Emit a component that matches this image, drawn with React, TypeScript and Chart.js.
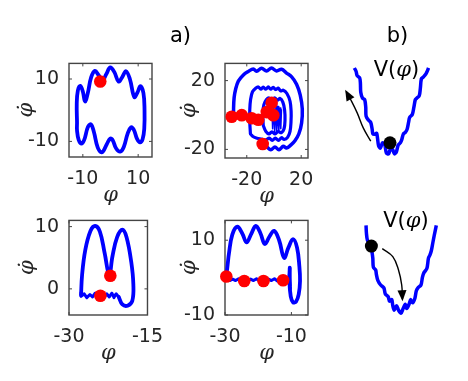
import React, { useEffect, useRef } from 'react';
import { Chart, registerables } from 'chart.js';

Chart.register(...registerables);

// ---------- DATA (phase, velocity) ----------
// Panel 1 (top-left): closed orbit
const p1Orbit: number[][] = [
  [-12.1, -4], [-12.2, 2], [-11.8, 6.3], [-10.9, 7.8], [-10.0, 6.0], [-9.2, 2.8], [-8.2, 5.5],
  [-7.0, 10.5], [-5.6, 12.6], [-4.3, 11.2], [-2.9, 9.6], [-1.5, 11.6], [-0.1, 13.7], [1.4, 12.2],
  [2.9, 9.2], [4.3, 10.7], [5.6, 12.5], [7.0, 10.0], [8.6, 4.2], [9.7, 5.6], [10.8, 7.7],
  [11.9, 5.5], [12.3, 0], [12.2, -6], [11.6, -9.3], [10.7, -10.3], [9.6, -9.2], [8.4, -6.2],
  [7.4, -5.5], [6.2, -7.5], [4.8, -11.8], [3.5, -13.3], [2.0, -12.2], [0.8, -9.6], [-0.1, -9.1],
  [-1.3, -10.8], [-3.1, -13.5], [-4.6, -12.0], [-6.0, -7.0], [-7.1, -4.5], [-8.2, -5.5],
  [-9.5, -9.5], [-10.5, -10.7], [-11.5, -9.5], [-12.1, -6.5], [-12.1, -4],
];
const p1Dots: number[][] = [[-3.7, 9.2]];

// Panel 2 (top-right): nested loops
const p2Outer: number[][] = [
  [-29.6, -2], [-29.7, 4], [-29.3, 10], [-28.2, 15], [-26.2, 19.7], [-22.5, 23.3], [-18.9, 25.3],
  [-15.2, 26.8], [-12.8, 25.4], [-9.1, 27.2], [-5.5, 25.6], [-1.8, 27.3], [1.9, 25.6], [5.6, 26.6],
  [9.2, 24.4], [13, 22.2], [16.6, 17.9], [19.3, 11.6], [20.8, 3.5], [20.3, -4.6], [18.3, -10.9],
  [15.4, -15], [12.5, -17.4], [9.2, -19.2], [6.8, -18.2], [3.6, -20.2], [0.7, -18.6], [-2.3, -20.2],
  [-5.5, -18.4], [-8.3, -16.9],
];
const p2Middle: number[][] = [
  [-17.3, -11], [-17.8, -4], [-17.8, 3], [-17.2, 9], [-15.8, 13.5], [-13.5, 15.5], [-11.5, 16.3],
  [-9.7, 15], [-7.9, 16.2], [-6, 15], [-4.2, 16.3], [-2.4, 15], [-0.6, 16.1], [1.3, 14.8],
  [3.1, 15.6], [5, 14], [6.8, 14.4], [9.5, 12.5], [11.8, 8], [12.6, 2], [12.5, -4], [11.8, -9.5],
  [10, -13], [7.5, -14.2], [5.5, -13.2], [3.3, -14.8], [1, -13.4], [-1.3, -14.8], [-3.5, -13.4],
  [-6, -14.5], [-9, -14], [-12.5, -13.5], [-15.5, -12.5], [-17.3, -11],
];
const p2Inner: number[][] = [
  [-7.9, -6], [-8.2, 1], [-7.4, 6], [-5.5, 9], [-3.5, 9.9], [-1.5, 8.6], [0.5, 10], [2.5, 8.6],
  [4.5, 9.6], [6.5, 7.5], [7.8, 3], [8.1, -3], [7.4, -8], [5.4, -10.3], [3, -9.6], [0.8, -11],
  [-1.5, -9.8], [-3.7, -11], [-6, -9.5], [-7.9, -6],
];
const p2Scribble: number[][] = [
  [-1.5, 4], [-1, -8], [0, 5], [0.5, -10], [1.5, 6], [2, -9], [3, 5], [3.5, -10], [4.5, 4],
  [5, -8], [5.5, 3], [3, -6], [1, 2], [-0.5, -5],
];
const p2Dots: number[][] = [
  [-31.1, -1.0], [-23.7, -0.1], [-16.4, -1.9], [-11.5, -2.8], [-5.3, 1.7], [-1.7, 7.1],
  [-0.5, -0.1], [-8.3, -16.9],
];

// Panel 3 (bottom-left): M-shaped orbit
const p3Orbit: number[][] = [
  [-27.7, -1.0], [-27.5, 2.2], [-26.9, 6.2], [-25.9, 9.3], [-25.0, 10.1], [-24.1, 9.2], [-23.2, 5.8],
  [-22.3, 2.2], [-21.7, 5.2], [-20.8, 8.3], [-19.8, 9.5], [-19.0, 8.3], [-18.1, 4.3], [-17.7, 0.7],
  [-17.9, -1.9], [-18.8, -2.7], [-19.8, -2.5], [-20.5, -1.3],
];
const p3Noise: number[][] = [
  [-20.5, -1.3], [-21.0, -0.8], [-21.4, -1.4], [-21.8, -0.7], [-22.3, -1.3], [-22.8, -0.8],
  [-23.3, -1.4], [-23.8, -0.9], [-24.4, -1.3], [-25.0, -0.7], [-25.5, -1.3], [-26.0, -0.9],
  [-26.6, -1.4], [-27.1, -0.8], [-27.7, -1.2], [-27.7, -0.6],
];
const p3Dots: number[][] = [[-22.1, 2.1], [-24.0, -1.1]];

// Panel 4 (bottom-right)
const p4Orbit: number[][] = [
  [-29.6, 0.3], [-29.2, 3.5], [-28.8, 6.5], [-27.8, 11.5], [-26.3, 13.6], [-24.8, 11.8],
  [-23.5, 9.4], [-22.2, 11.5], [-20.7, 13.8], [-19.3, 11.8], [-18.0, 9.0], [-16.6, 11],
  [-15.2, 12.5], [-13.7, 10], [-12.2, 5.3], [-10.9, 8], [-9.5, 10.3], [-8.3, 8], [-7.6, 3],
  [-7.4, -0.9], [-7.8, -4.5], [-8.6, -6.4], [-9.5, -6.6], [-10.2, -5], [-10.6, -1], [-10.5, 2.6],
];
const p4Scribble: number[][] = [
  [-10.5, 2.8], [-10.3, -3], [-10.5, 2], [-10.3, -2.5], [-10.6, 1], [-10.8, -0.6],
];
const p4Noise: number[][] = [
  [-10.8, -0.6], [-11.6, -0.3], [-12.4, -0.9], [-13.3, -0.4], [-14.2, -0.9], [-15.1, -0.3],
  [-16.0, -0.8], [-16.9, -0.4], [-17.8, -1.0], [-18.7, -0.4], [-19.6, -0.9], [-20.5, -0.3],
  [-21.4, -0.8], [-22.3, -0.4], [-23.2, -1.0], [-24.1, -0.4], [-25.0, -0.9], [-25.9, -0.3],
  [-26.8, -0.8], [-27.7, -0.4], [-28.6, -0.8], [-29.6, -0.5],
];
const p4Dots: number[][] = [[-29.6, 0.3], [-24.2, -0.9], [-18.4, -0.9], [-12.5, -0.7]];

// Tick labels
const p1XTicks = [-10, 10];
const p1YTicks = [-10, 10];
const p2XTicks = [-20, 20];
const p2YTicks = [-20, 20];
const p3XTicks = [-30, -15];
const p3YTicks = [0, 10];
const p4XTicks = [-30, -10];
const p4YTicks = [-10, 10];

// ---------- DATA (potential sketches) ----------
const potTop: number[][] = [
  [-10, 26.8], [-9.5, 25.8], [-9.2, 24.6], [-8.5, 24], [-8.3, 22.5], [-8.2, 20], [-7.7, 18.3],
  [-7.1, 17.9], [-6.8, 15.8], [-6.7, 13.3], [-6, 12.1], [-5.4, 11.5], [-5, 9.6], [-4.8, 8.3],
  [-4.2, 8.2], [-3.75, 8.5], [-3.5, 7.1], [-3.2, 5], [-2.7, 4.3], [-2.1, 5.8], [-1.5, 5.4],
  [-1, 2.9], [-0.4, 2.7], [0.2, 4.3], [0.7, 4], [1.25, 2.7], [1.8, 3.3], [2.3, 5.2], [2.9, 5.8],
  [3.3, 6.7], [3.75, 8.3], [4.3, 8.75], [4.8, 9.6], [5.2, 11.5], [5.5, 12.9], [6.25, 13.75],
  [6.7, 15.8], [7.1, 17.9], [7.5, 18.3], [8.2, 19], [8.5, 21], [8.8, 23.75], [9.3, 24.2],
  [10, 25], [10.4, 25.8], [10.8, 26.8],
];
const potTopBall: number[][] = [[0, 5.8]];
const potTopArrow: number[][] = [[-5.4, 6.25], [-7.5, 10], [-9.2, 14.2], [-10.8, 17.5], [-12.3, 20.2]];

const potBottom: number[][] = [
  [-9.8, 27.5], [-9.7, 25.4], [-9.4, 23.3], [-8.6, 22.2], [-8.2, 20.4], [-7.9, 18.3], [-7.75, 15.8],
  [-7.1, 15], [-6.9, 13.75], [-6.5, 12.1], [-5.7, 10.8], [-4.8, 10], [-4.4, 8.3], [-3.6, 7.5],
  [-3.2, 6.25], [-2.6, 6.7], [-2.3, 5], [-1.9, 3.75], [-1.25, 5], [-0.7, 3.75], [0, 2.9],
  [0.6, 4.2], [1.2, 5.4], [1.6, 4.2], [2.25, 5.4], [2.7, 6.7], [3.25, 5.8], [3.9, 7.1], [4.3, 9.2],
  [4.75, 10], [5.6, 10.8], [6, 12.9], [6.4, 14.2], [7.25, 15.4], [7.7, 18.3], [8.1, 19.2],
  [8.5, 20.4], [8.9, 22.5], [9.3, 24.6], [9.9, 27.5],
];
const potBottomBall: number[][] = [[-8.3, 21.7]];
const potBottomArrow: number[][] = [[-5.25, 21], [-2.3, 18.75], [-0.7, 15], [0.2, 10.8], [0.4, 6.8]];

// ---------- helpers ----------
const toXY = (a: number[][]) => a.map(([x, y]) => ({ x, y }));
const BLUE = '#0000ff';
const RED = '#ff0000';
const AX_W = 64;
const PAD_T = 14;
const PAD_R = 22;
const AX_H = 52;

const boxPlugin = {
  id: 'matBox',
  beforeDatasetsDraw(chart: any) {
    const { ctx, chartArea: a, scales } = chart;
    ctx.save();
    ctx.strokeStyle = '#444444';
    ctx.lineWidth = 1.4;
    ctx.strokeRect(a.left, a.top, a.right - a.left, a.bottom - a.top);
    ctx.lineWidth = 1;
    ctx.beginPath();
    for (const t of scales.x.ticks) {
      const px = scales.x.getPixelForValue(t.value);
      ctx.moveTo(px, a.bottom); ctx.lineTo(px, a.bottom - 3);
      ctx.moveTo(px, a.top); ctx.lineTo(px, a.top + 3);
    }
    for (const t of scales.y.ticks) {
      const py = scales.y.getPixelForValue(t.value);
      ctx.moveTo(a.left, py); ctx.lineTo(a.left + 3, py);
      ctx.moveTo(a.right, py); ctx.lineTo(a.right - 3, py);
    }
    ctx.stroke();
    ctx.restore();
  },
};

const arrowPlugin = {
  id: 'arrowHeads',
  afterDatasetsDraw(chart: any) {
    const { ctx } = chart;
    chart.data.datasets.forEach((ds: any, i: number) => {
      if (!ds.arrowHead) return;
      const pts = chart.getDatasetMeta(i).data;
      const n = pts.length;
      const last = pts[n - 1];
      const prev = pts[n - 2];
      const ang = Math.atan2(last.y - prev.y, last.x - prev.x);
      const L = 11, W = 4.5;
      ctx.save();
      ctx.fillStyle = '#000';
      ctx.translate(last.x, last.y);
      ctx.rotate(ang);
      ctx.beginPath();
      ctx.moveTo(2, 0);
      ctx.lineTo(2 - L, -W);
      ctx.lineTo(2 - L, W);
      ctx.closePath();
      ctx.fill();
      ctx.restore();
    });
  },
};

interface PanelCfg {
  l: number; t: number; w: number; h: number;
  xMin: number; xMax: number; yMin: number; yMax: number;
  xTicks: number[]; yTicks: number[];
  yTitlePad: number;
  lines: { data: number[][]; width: number; tension: number }[];
  dots: number[][];
}

const panels: PanelCfg[] = [
  {
    l: 69, t: 56, w: 83, h: 101, xMin: -15, xMax: 15, yMin: -15, yMax: 15,
    xTicks: p1XTicks, yTicks: p1YTicks, yTitlePad: 9,
    lines: [{ data: p1Orbit, width: 3.8, tension: 0.4 }], dots: p1Dots,
  },
  {
    l: 225, t: 56, w: 83, h: 102, xMin: -36, xMax: 25, yMin: -25, yMax: 30,
    xTicks: p2XTicks, yTicks: p2YTicks, yTitlePad: 16,
    lines: [
      { data: p2Outer, width: 3.5, tension: 0.35 },
      { data: p2Middle, width: 3.2, tension: 0.35 },
      { data: p2Inner, width: 3.2, tension: 0.35 },
      { data: p2Scribble, width: 1.5, tension: 0 },
    ],
    dots: p2Dots,
  },
  {
    l: 69, t: 213, w: 83, h: 102, xMin: -30, xMax: -15, yMin: -4.2, yMax: 11,
    xTicks: p3XTicks, yTicks: p3YTicks, yTitlePad: 10,
    lines: [
      { data: p3Orbit, width: 3.8, tension: 0.4 },
      { data: p3Noise, width: 3, tension: 0 },
    ],
    dots: p3Dots,
  },
  {
    l: 225, t: 213, w: 83, h: 102, xMin: -30, xMax: -5, yMin: -10, yMax: 15.3,
    xTicks: p4XTicks, yTicks: p4YTicks, yTitlePad: 15.5,
    lines: [
      { data: p4Orbit, width: 3.8, tension: 0.4 },
      { data: p4Scribble, width: 3, tension: 0 },
      { data: p4Noise, width: 3, tension: 0 },
    ],
    dots: p4Dots,
  },
];

function makePhase(canvas: HTMLCanvasElement, p: PanelCfg) {
  const tickFont = { family: 'DejaVu Sans', size: 19 };
  const phiFont = { family: 'DejaVu Serif', size: 21, style: 'italic' as const };
  const datasets: any[] = [
    {
      data: toXY(p.dots), showLine: false, pointRadius: 6.3, pointHoverRadius: 6.3,
      backgroundColor: RED, borderWidth: 0, clip: false,
    },
    ...p.lines.map((ln) => ({
      data: toXY(ln.data), showLine: true, pointRadius: 0, borderColor: BLUE,
      borderWidth: ln.width, tension: ln.tension, borderJoinStyle: 'round', borderCapStyle: 'round',
      clip: false, fill: false,
    })),
  ];
  return new Chart(canvas, {
    type: 'scatter',
    data: { datasets },
    plugins: [boxPlugin],
    options: {
      responsive: false,
      animation: false,
      events: [],
      layout: { padding: { top: PAD_T, right: PAD_R, left: 0, bottom: 0 } },
      plugins: { legend: { display: false }, tooltip: { enabled: false } },
      scales: {
        x: {
          type: 'linear', position: 'bottom', min: p.xMin, max: p.xMax,
          afterFit: (s: any) => { s.height = AX_H; },
          afterBuildTicks: (s: any) => { s.ticks = p.xTicks.map((v) => ({ value: v })); },
          ticks: { font: tickFont, color: '#262626', padding: 11, maxRotation: 0, autoSkip: false, callback: (v: any) => String(v) },
          grid: { display: false, drawTicks: false },
          border: { display: false },
          title: { display: true, text: 'φ', font: phiFont, color: '#262626', padding: { top: 0, bottom: 0.5 } },
        },
        y: {
          type: 'linear', position: 'left', min: p.yMin, max: p.yMax,
          afterFit: (s: any) => { s.width = AX_W; },
          afterBuildTicks: (s: any) => { s.ticks = p.yTicks.map((v) => ({ value: v })); },
          ticks: { font: tickFont, color: '#262626', padding: 10, autoSkip: false, callback: (v: any) => String(v) },
          grid: { display: false, drawTicks: false },
          border: { display: false },
          title: { display: true, text: 'φ\u0307', font: phiFont, color: '#262626', padding: { top: p.yTitlePad, bottom: 0 } },
        },
      },
    } as any,
  });
}

interface PotCfg { l: number; t: number; curve: number[][]; ball: number[][]; arrow: number[][] }
const pots: PotCfg[] = [
  { l: 330, t: 50, curve: potTop, ball: potTopBall, arrow: potTopArrow },
  { l: 341, t: 210, curve: potBottom, ball: potBottomBall, arrow: potBottomArrow },
];

function makePot(canvas: HTMLCanvasElement, p: PotCfg) {
  return new Chart(canvas, {
    type: 'scatter',
    data: {
      datasets: [
        { data: toXY(p.ball), showLine: false, pointRadius: 6.5, backgroundColor: '#000', borderWidth: 0, clip: false },
        {
          data: toXY(p.arrow), showLine: true, pointRadius: 0, borderColor: '#000', borderWidth: 1.4,
          tension: 0.4, clip: false, arrowHead: true,
        },
        {
          data: toXY(p.curve), showLine: true, pointRadius: 0, borderColor: BLUE, borderWidth: 3.5,
          tension: 0.3, clip: false, borderJoinStyle: 'round',
        },
      ] as any,
    },
    plugins: [arrowPlugin],
    options: {
      responsive: false,
      animation: false,
      events: [],
      layout: { padding: 0 },
      plugins: { legend: { display: false }, tooltip: { enabled: false } },
      scales: {
        x: { type: 'linear', min: -15, max: 15, display: false },
        y: { type: 'linear', min: 0, max: 30, display: false },
      },
    } as any,
  });
}

function PhaseCanvas({ p }: { p: PanelCfg }) {
  const ref = useRef<HTMLCanvasElement>(null);
  useEffect(() => {
    const c = makePhase(ref.current!, p);
    return () => c.destroy();
  }, [p]);
  const w = AX_W + p.w + PAD_R;
  const h = PAD_T + p.h + AX_H;
  return (
    <canvas ref={ref} width={w} height={h}
      style={{ position: 'absolute', left: p.l - AX_W, top: p.t - PAD_T, width: w, height: h }} />
  );
}

function PotCanvas({ p }: { p: PotCfg }) {
  const ref = useRef<HTMLCanvasElement>(null);
  useEffect(() => {
    const c = makePot(ref.current!, p);
    return () => c.destroy();
  }, [p]);
  return (
    <canvas ref={ref} width={120} height={120}
      style={{ position: 'absolute', left: p.l, top: p.t, width: 120, height: 120 }} />
  );
}

const labelStyle = (cx: number, cy: number): React.CSSProperties => ({
  position: 'absolute', left: cx, top: cy, transform: 'translate(-50%, -50%)',
  fontFamily: 'DejaVu Sans', fontSize: 21, lineHeight: 1, color: '#000', whiteSpace: 'nowrap',
});

export default function App() {
  return (
    <div style={{ position: 'absolute', left: 0, top: 0, width: 468, height: 381, background: '#fff', overflow: 'hidden' }}>
      {panels.map((p, i) => <PhaseCanvas key={i} p={p} />)}
      {pots.map((p, i) => <PotCanvas key={i} p={p} />)}
      <div style={labelStyle(180.5, 35)}>a)</div>
      <div style={labelStyle(397.5, 35)}>b)</div>
      <div style={labelStyle(396.5, 68.5)}>V(<span style={{ fontFamily: 'DejaVu Serif', fontStyle: 'italic' }}>φ</span>)</div>
      <div style={labelStyle(406, 220)}>V(<span style={{ fontFamily: 'DejaVu Serif', fontStyle: 'italic' }}>φ</span>)</div>
    </div>
  );
}
